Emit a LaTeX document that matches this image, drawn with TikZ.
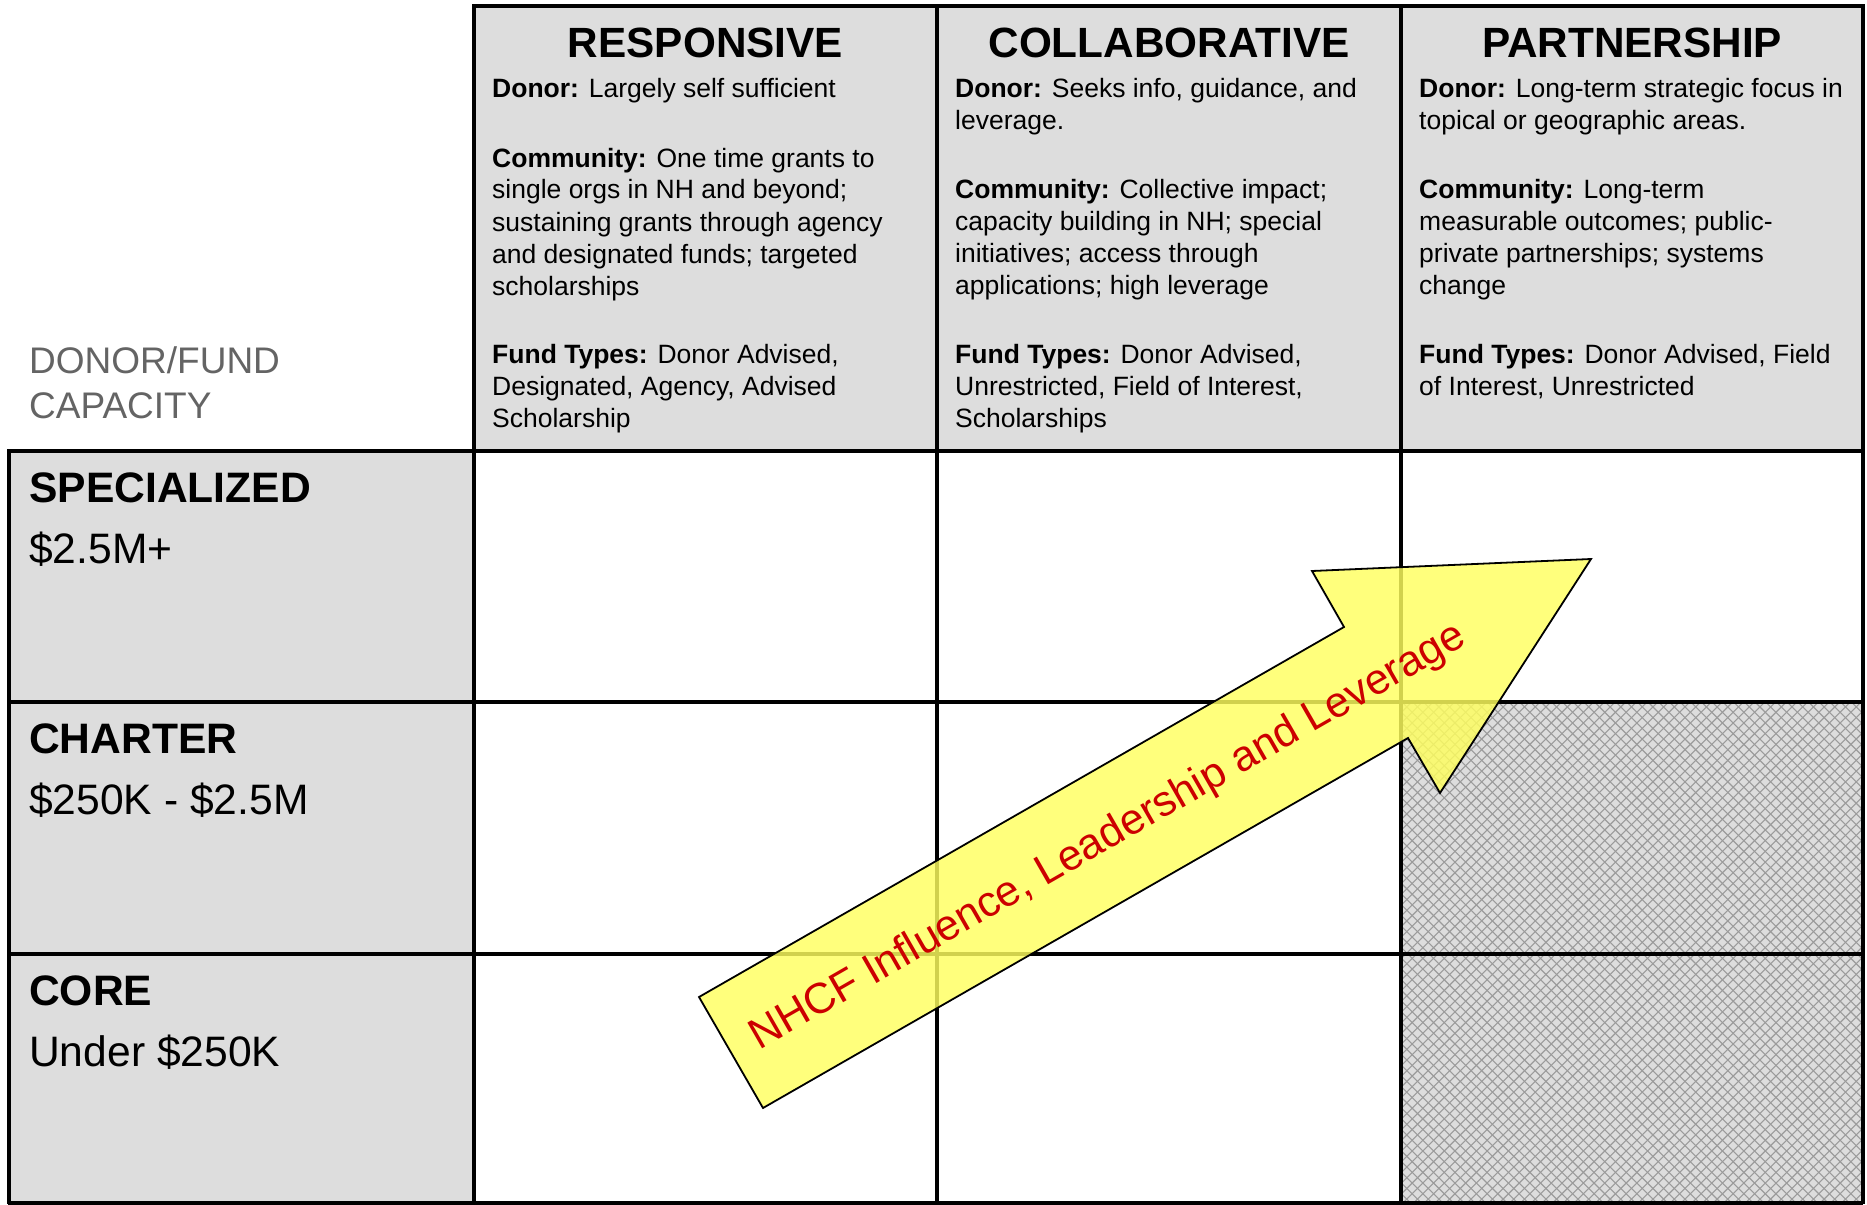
\documentclass[tikz,border=0pt]{standalone}
\usepackage{fontspec}
\setmainfont{Liberation Sans}
\definecolor{cellgray}{RGB}{221,221,221}
\definecolor{hatchgray}{RGB}{155,155,155}
\definecolor{arrowyellow}{RGB}{255,255,95}
\definecolor{labelred}{RGB}{204,0,0}
\definecolor{capgray}{RGB}{100,100,100}
\tikzset{
  heading/.style={anchor=base, inner sep=0pt, font=\fontsize{42.3}{48}\selectfont\bfseries},
  para/.style={anchor=base west, inner sep=0pt, font=\fontsize{26.5}{32}\selectfont},
  rowtitle/.style={anchor=base west, inner sep=0pt, font=\fontsize{42.6}{48}\selectfont\bfseries},
  rowvalue/.style={anchor=base west, inner sep=0pt, font=\fontsize{42.6}{48}\selectfont},
  captext/.style={anchor=base west, inner sep=0pt, text=capgray, font=\fontsize{37}{45}\selectfont},
  outerline/.style={line width=4.6pt},
  innerline/.style={line width=3.3pt},
  hatchline/.style={draw=hatchgray, line width=1.1pt},
  bigarrow/.style={fill=arrowyellow, fill opacity=0.82, draw=black, line width=1.8pt, line join=miter},
  arrowtext/.style={anchor=base, inner sep=0pt, text=labelred, font=\fontsize{43}{48}\selectfont, rotate=29.84}
}
\newcommand{\cellpar}[1]{\parbox[t]{450pt}{\raggedright #1}}
\begin{document}
\begin{tikzpicture}[x=1pt,y=-1pt]
\useasboundingbox (0,0) rectangle (1867,1204);
% fills
\fill[cellgray] (474,6) rectangle (1863,451);
\fill[cellgray] (8,451) rectangle (474,1204);
\begin{scope}
  \clip (1401,702) rectangle (1863,1204);
  \fill[cellgray] (1401,702) rectangle (1863,1204);
  \foreach \i in {0,...,92} {
    \draw[hatchline] ({899+\i*10.7},702) -- ++(502,502);
    \draw[hatchline] ({1401+\i*10.7},702) -- ++(-502,502);
  }
\end{scope}
% grid lines
\draw[innerline] (8,702) -- (1863,702);
\draw[innerline] (8,954) -- (1863,954);
\draw[innerline] (8,1203) -- (1863,1203);
\draw[innerline] (937,451) -- (937,1204);
\draw[innerline] (1401,451) -- (1401,1204);
\draw[innerline] (474,451) -- (474,1204);
\draw[outerline] (937,6) -- (937,451);
\draw[outerline] (1401,6) -- (1401,451);
\draw[outerline] (474,1204) -- (474,6) -- (1863,6) -- (1863,1204);
\draw[outerline] (9,451) -- (1863,451);
\draw[outerline] (9,449) -- (9,1204);
% headings
\node[heading] (h1) at (705.5,58) {RESPONSIVE};
\node[heading] (h2) at (1169,58) {COLLABORATIVE};
\node[heading] (h3) at (1632,58) {PARTNERSHIP};
% column 1
\node[para] (r1d) at (492,98) {\cellpar{\textbf{Donor:} Largely self sufficient}};
\node[para] (r1c) at (492,167) {\cellpar{\textbf{Community:} One time grants to\\single orgs in NH and beyond;\\sustaining grants through agency\\and designated funds; targeted\\scholarships}};
\node[para] (r1f) at (492,363) {\cellpar{\textbf{Fund Types:} Donor Advised,\\Designated, Agency, Advised\\Scholarship}};
% column 2
\node[para] (c2d) at (955,98) {\cellpar{\textbf{Donor:} Seeks info, guidance, and\\leverage.}};
\node[para] (c2c) at (955,198) {\cellpar{\textbf{Community:} Collective impact;\\capacity building in NH; special\\initiatives; access through\\applications; high leverage}};
\node[para] (c2f) at (955,363) {\cellpar{\textbf{Fund Types:} Donor Advised,\\Unrestricted, Field of Interest,\\Scholarships}};
% column 3
\node[para] (p3d) at (1419,98) {\cellpar{\textbf{Donor:} Long-term strategic focus in\\topical or geographic areas.}};
\node[para] (p3c) at (1419,198) {\cellpar{\textbf{Community:} Long-term\\measurable outcomes; public-\\private partnerships; systems\\change}};
\node[para] (p3f) at (1419,363) {\cellpar{\textbf{Fund Types:} Donor Advised, Field\\of Interest, Unrestricted}};
% capacity label
\node[captext] (cap1) at (29,373) {DONOR/FUND};
\node[captext] (cap2) at (29,418) {CAPACITY};
% row labels
\node[rowtitle] (s1) at (29,502) {SPECIALIZED};
\node[rowvalue] (s2) at (29,563) {\$2.5M+};
\node[rowtitle] (ch1) at (29,753) {CHARTER};
\node[rowvalue] (ch2) at (29,814) {\$250K - \$2.5M};
\node[rowtitle] (co1) at (29,1005) {CORE};
\node[rowvalue] (co2) at (29,1066) {Under \$250K};
% arrow
\draw[bigarrow] (699,997) -- (1344,627) -- (1312,571) -- (1591,559) -- (1440,793) -- (1408,738) -- (763,1108) -- cycle;
\node[arrowtext] (arrowlabel) at (1114,847) {NHCF Influence, Leadership and Leverage};
\end{tikzpicture}
\end{document}
